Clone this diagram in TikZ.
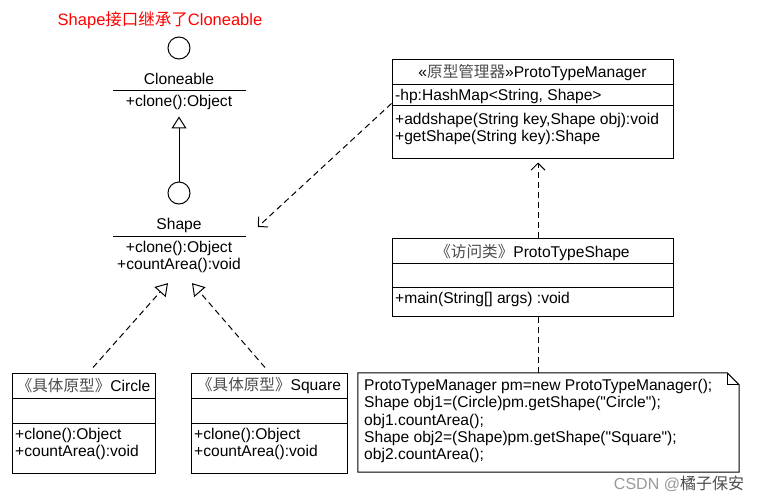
\documentclass[tikz,border=0pt]{standalone}
\usepackage{fontspec}
\setmainfont{Liberation Sans}[Ligatures=TeXOff]
\newfontfamily\cjk{Noto Sans CJK SC}
\usetikzlibrary{arrows.meta,calc,positioning}

\tikzset{
  umlbox/.style={draw, line width=1pt, inner sep=0pt},
  sepline/.style={line width=1pt},
  ball/.style={circle, draw, line width=1pt, minimum size=22pt, inner sep=0pt},
  txt/.style={inner sep=0pt, font=\fontsize{15.6}{17.3}\selectfont},
  heading/.style={inner sep=0pt, text=red, font=\fontsize{16.5}{18}\selectfont},
  realize/.style={line width=1pt, -{Triangle[open, length=12pt, width=15pt]}},
  implement/.style={realize, dash pattern=on 6pt off 4pt},
  depend/.style={line width=1pt, dash pattern=on 6pt off 4pt,
                 -{Straight Barb[length=7pt, width=14pt]}},
  lifeline/.style={line width=1pt, dash pattern=on 6pt off 4pt}
}
\newcommand{\stereo}[1]{{\cjk\color{black!70}#1}}

\begin{document}
\begin{tikzpicture}[x=1pt, y=-1pt]
  \useasboundingbox (0,0) rectangle (768,498);

  % title
  \node[heading] (title) at (160,20) {Shape{\cjk 接口继承了}Cloneable};

  % interface Cloneable
  \node[ball] (cloneball) at (179,48) {};
  \node[txt] (clonename) at (179,79) {Cloneable};
  \draw[sepline] (113,90) -- (246,90);
  \node[txt] (clonemeth) at (179,102) {+clone():Object};

  % interface Shape
  \node[ball] (shapeball) at (179,193) {};
  \node[txt] (shapename) at (179,225) {Shape};
  \draw[sepline] (113,236) -- (246,236);
  \node[txt, align=center] (shapemeth) at (179,257) {+clone():Object\\+countArea():void};

  % concrete prototypes
  \node[umlbox, minimum width=143pt, minimum height=100pt] (circlebox) at (83.5,423) {};
  \draw[sepline] (circlebox.west |- 0,398) -- (circlebox.east |- 0,398);
  \draw[sepline] (circlebox.west |- 0,423) -- (circlebox.east |- 0,423);
  \node[txt] (circlehead) at (83.5,386) {\stereo{《具体原型》}Circle};
  \node[txt, anchor=west, align=left] (circlemeth) at (15,444) {+clone():Object\\+countArea():void};

  \node[umlbox, minimum width=156pt, minimum height=100pt] (squarebox) at (269,423) {};
  \draw[sepline] (squarebox.west |- 0,398) -- (squarebox.east |- 0,398);
  \draw[sepline] (squarebox.west |- 0,423) -- (squarebox.east |- 0,423);
  \node[txt] (squarehead) at (269,386) {\stereo{《具体原型》}Square};
  \node[txt, anchor=west, align=left] (squaremeth) at (194,444) {+clone():Object\\+countArea():void};

  % manager
  \node[umlbox, minimum width=281pt, minimum height=99pt] (mgr) at (532.5,108.5) {};
  \draw[sepline] (mgr.west |- 0,84) -- (mgr.east |- 0,84);
  \draw[sepline] (mgr.west |- 0,105) -- (mgr.east |- 0,105);
  \node[txt] (mgrhead) at (532.5,73) {«\stereo{原型管理器}»ProtoTypeManager};
  \node[txt, anchor=west] (mgrattr) at (395,96) {-hp:HashMap<String, Shape>};
  \node[txt, anchor=west, align=left] (mgrmeth) at (395,129) {+addshape(String key,Shape obj):void\\+getShape(String key):Shape};

  % client
  \node[umlbox, minimum width=281pt, minimum height=78pt] (client) at (532.5,277) {};
  \draw[sepline] (client.west |- 0,263) -- (client.east |- 0,263);
  \draw[sepline] (client.west |- 0,287) -- (client.east |- 0,287);
  \node[txt] (clienthead) at (532.5,253) {\stereo{《访问类》}ProtoTypeShape};
  \node[txt, anchor=west] (clientmeth) at (395,299) {+main(String[] args) :void};

  % note
  \node[minimum width=381pt, minimum height=99pt, inner sep=0pt] (note) at (548.5,422.5) {};
  \draw[sepline] (note.north west) -- ($(note.north east)+(-12,0)$) -- ($(note.north east)+(0,12)$)
    -- (note.south east) -- (note.south west) -- cycle;
  \draw[sepline] ($(note.north east)+(-12,0)$) |- ($(note.north east)+(0,12)$);
  \node[txt, anchor=north west, align=left] (notetext) at (364,379) {ProtoTypeManager pm=new ProtoTypeManager();\\
    Shape obj1=(Circle)pm.getShape("Circle");\\
    obj1.countArea();\\
    Shape obj2=(Shape)pm.getShape("Square");\\
    obj2.countArea();};

  % watermark
  \node[inner sep=0pt, text=black!40, font=\fontsize{16}{16}\selectfont] (mark) at (679,484) {CSDN @\stereo{橘子保安}};

  % connectors
  \draw[realize] (shapeball) -- ($(clonemeth.south)+(0,7)$);
  \draw[implement] ($(circlebox.north)+(9.5,-5)$) -- ($(shapemeth.south)+(-11,10)$);
  \draw[implement] ($(squarebox.north)+(-4,-5)$) -- ($(shapemeth.south)+(13,10)$);
  \draw[depend] ($(mgr.west)+(0,-5)$) -- ($(shapename.east)+(56,2)$);
  \draw[depend] ($(client.north)+(5.5,0)$) -- ($(mgr.south)+(5.5,4)$);
  \coordinate (life) at ($(client.south)+(5.5,0)$);
  \draw[lifeline] (life) -- (life |- note.north);
\end{tikzpicture}
\end{document}
